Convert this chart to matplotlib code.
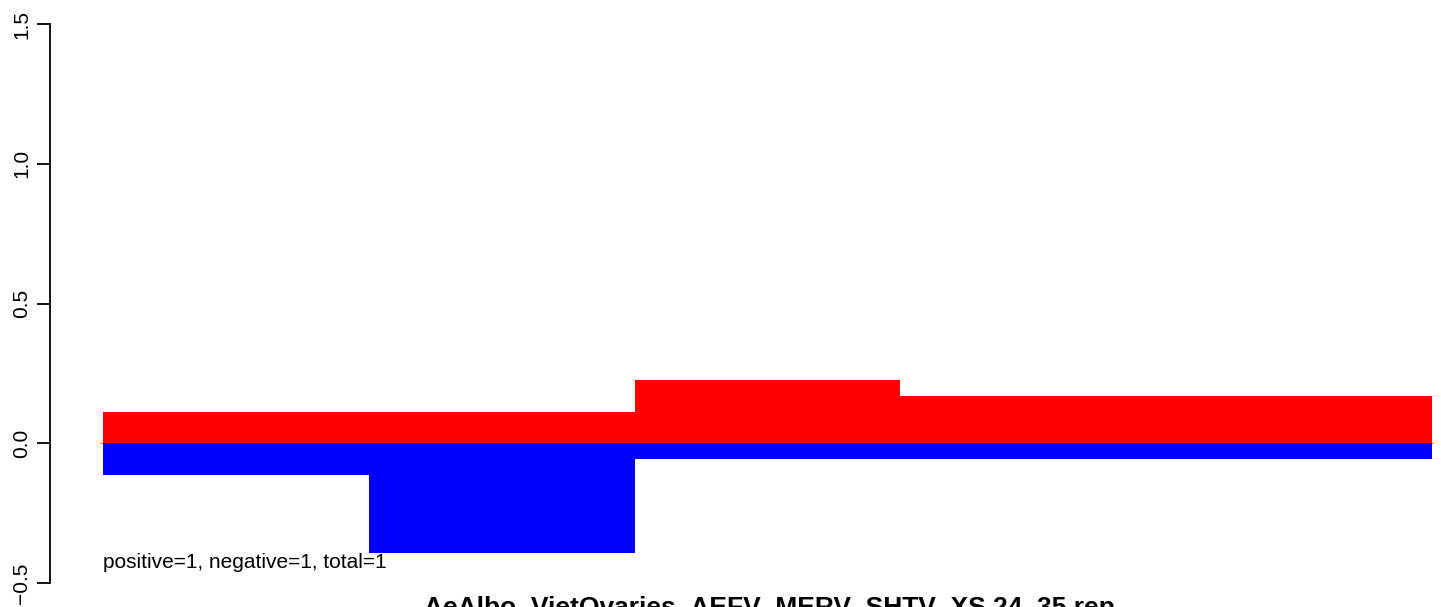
import numpy as np
import matplotlib
matplotlib.use('Agg')
import matplotlib.pyplot as plt

plt.rcParams.update({
    'font.family': ['Liberation Sans', 'DejaVu Sans'],
    'axes.linewidth': 1.3,
})

# ── data ─────────────────────────────────────────────────────────────────────
bins      = [0, 1, 2, 3, 4]
positive  = [0.112, 0.112, 0.227, 0.169, 0.169]
negative  = [-0.113, -0.393, -0.056, -0.056, -0.056]
y_ticks   = [-0.5, 0.0, 0.5, 1.0, 1.5]
y_labels  = ['\u22120.5', '0.0', '0.5', '1.0', '1.5']
note      = 'positive=1, negative=1, total=1'
title     = 'AeAlbo_VietOvaries_AEFV_MERV_SHTV_XS 24_35 rep'

W, H = 1441, 607
fig = plt.figure(figsize=(W / 100, H / 100), dpi=100)

# plot region: left edge at x=50 px, extends past the right border (cropped)
ax_left, ax_right = 50, 1485
ax = fig.add_axes([ax_left / W, 0, (ax_right - ax_left) / W, 1])
ax.set_xlim(-0.2, 5.2)
ax.set_ylim(-(H - 443.3) / 279.4, 443.3 / 279.4)

ax.hlines(0, -0.01, 5.005, color='#888888', lw=0.8, zorder=1)
ax.bar(bins, positive, width=1.0, align='edge', color='#ff0000', lw=0, zorder=2)
ax.bar(bins, negative, width=1.0, align='edge', color='#0000ff', lw=0, zorder=2)

for s in ('top', 'right', 'bottom'):
    ax.spines[s].set_visible(False)
ax.spines['left'].set_bounds(-0.5, 1.5)
ax.set_xticks([])
ax.set_yticks(y_ticks)
ax.set_yticklabels(y_labels, rotation=90, va='center', fontsize=15)
ax.tick_params(axis='y', length=9.5, width=1.3, pad=4)

ax.text(0, -0.428, note, ha='left', va='center', fontsize=15)

fig.text(769 / W, -8 / H, title, ha='center', va='baseline',
         fontsize=19, fontweight='bold')

fig.savefig('out.png', dpi=100, facecolor='white')
